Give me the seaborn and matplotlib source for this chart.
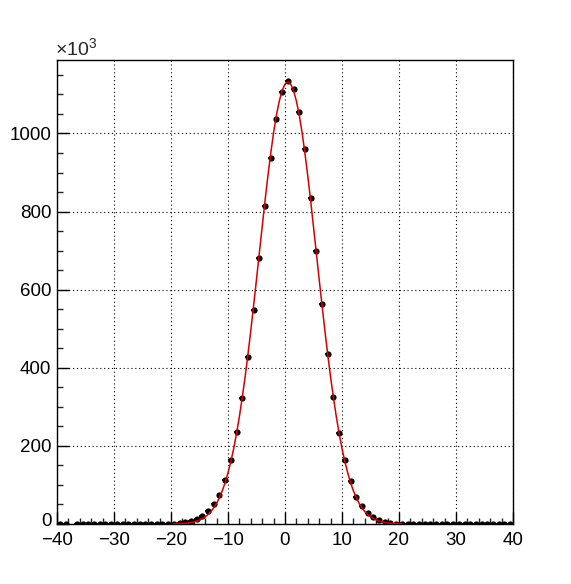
import numpy as np
import matplotlib
matplotlib.use("Agg")
import matplotlib.pyplot as plt
import matplotlib.transforms as mtransforms
import seaborn as sns
from matplotlib.ticker import MultipleLocator

# histogram: 80 bins of width 1 from -40 to 40, counts in units of 10^3
bin_centers = np.arange(-39.5, 40.0, 1.0)
counts_k = [
    0.02, 0.02, np.nan, 0.03, 0.03, 0.04, 0.05, 0.05, 0.06, 0.07,
    0.08, 0.1, 0.12, 0.14, 0.17, 0.2, 0.25, 0.3, 0.4, 0.6,
    1.2, 2, 4, 7, 12, 20, 33, 52, 74, 113,
    164, 235, 322, 427, 548, 680, 814, 937, 1037, 1107,
    1135, 1113, 1055, 960, 835, 700, 564, 435, 325, 232,
    164, 110, 70, 45, 28, 17, 10, 5, 2.5, 1.3,
    0.7, 0.4, 0.3, 0.2, 0.17, 0.14, 0.12, 0.1, 0.08, 0.07,
    0.06, 0.05, 0.05, 0.04, 0.04, 0.03, 0.03, 0.02, 0.02, 0.02,
]

# gaussian fit curve, read at half-unit steps from -19.5 to 20.5
fit_x = np.arange(-19.5, 20.75, 0.5)
fit_k = [
    0.45, 0.66, 0.97, 1.39, 2.0, 2.8, 4.0, 5.5, 7.6, 10.3,
    13.9, 18.5, 24.4, 32, 41.5, 53, 67.6, 85, 106, 131,
    160, 193, 232, 275, 324, 376, 434, 495, 560, 626,
    694, 761, 828, 891, 949, 1002, 1047, 1083, 1110, 1126.5,
    1132,
    1126.5, 1110, 1083, 1047, 1002, 949, 891, 828, 761, 694,
    626, 560, 495, 434, 376, 324, 275, 232, 193, 160,
    131, 106, 85, 67.6, 53, 41.5, 32, 24.4, 18.5, 13.9,
    10.3, 7.6, 5.5, 4.0, 2.8, 2.0, 1.39, 0.97, 0.66, 0.45,
]

sns.set_style("white")
plt.rcParams['font.family'] = ['Liberation Sans', 'DejaVu Sans']
plt.rcParams['mathtext.default'] = 'regular'

fig = plt.figure(figsize=(5.71, 5.84), dpi=100)
ax = fig.add_axes([0.0998, 0.1027, 0.7986, 0.7945])

# data points with horizontal bin-width bars
ax.errorbar(bin_centers, counts_k, xerr=0.5, fmt='none', ecolor='black',
            elinewidth=1.2, capsize=0, zorder=3)
sns.scatterplot(x=bin_centers, y=counts_k, ax=ax, color='black', s=20,
                marker='o', edgecolor='black', linewidth=0, zorder=4)

# fit function on top
sns.lineplot(x=fit_x, y=fit_k, ax=ax, color='#d40000', linewidth=1.1,
             zorder=5)

ax.set_xlim(-40, 40)
ax.set_ylim(0, 1188)
ax.xaxis.set_major_locator(MultipleLocator(10))
ax.xaxis.set_minor_locator(MultipleLocator(2))
ax.yaxis.set_major_locator(MultipleLocator(200))
ax.yaxis.set_minor_locator(MultipleLocator(50))

ax.grid(True, which='major', color='black', linestyle=(0, (1, 2.5)),
        linewidth=0.8)
ax.set_axisbelow(True)

ax.tick_params(which='major', direction='in', length=8.5, width=1,
               labelsize=13.5, colors='black')
ax.tick_params(axis='x', which='major', pad=6)
ax.tick_params(axis='y', which='major', pad=4)
ax.tick_params(which='minor', direction='in', length=4.5, width=1)
ax.tick_params(axis='both', which='both', top=False, right=False,
               bottom=True, left=True)

for sp in ax.spines.values():
    sp.set_color('black')
    sp.set_linewidth(1.0)

ax.set_xlabel('')
ax.set_ylabel('')

# lift the "0" on the y axis a little so it clears the "-40" below it
fig.canvas.draw()
lift = mtransforms.ScaledTranslation(0, 3 / 72, fig.dpi_scale_trans)
for lab in ax.get_yticklabels():
    if lab.get_text() == '0':
        lab.set_transform(lab.get_transform() + lift)

fig.text(0.097, 0.905, r'$\times10^{3}$', fontsize=14, ha='left',
         va='baseline')

fig.savefig('out.png', dpi=100, facecolor='white')
